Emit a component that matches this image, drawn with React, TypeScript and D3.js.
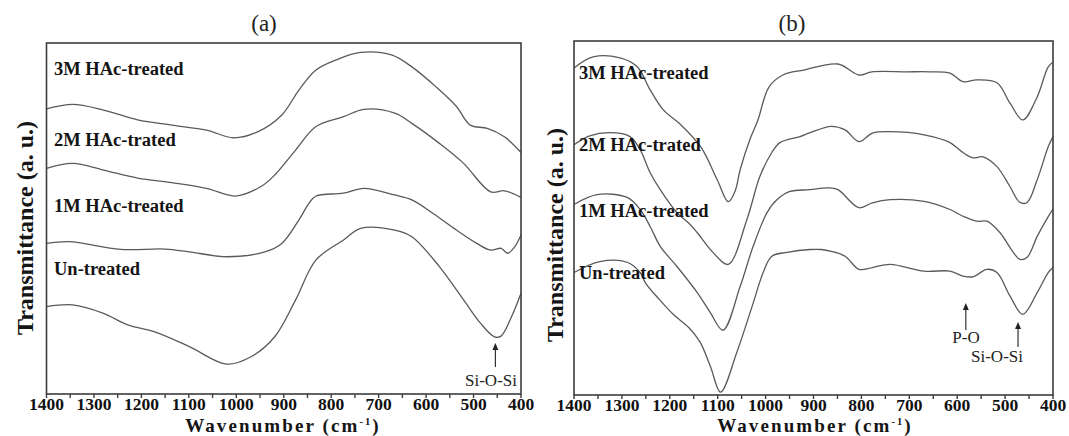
import React from "react";
import * as d3 from "d3";

// ---------- DATA ----------
const xTicksMajor = [1400, 1300, 1200, 1100, 1000, 900, 800, 700, 600, 500, 400];
const xTicksMinor = [1350, 1250, 1150, 1050, 950, 850, 750, 650, 550, 450];
const seriesNames = ["3M HAc-treated", "2M HAc-trated", "1M HAc-treated", "Un-treated"];

// Panel (a): [wavenumber, transmittance (a.u.)]
const a3M: [number, number][] = [
  [1400, 81.2], [1345, 82.5], [1280, 80.9], [1208, 78.1], [1136, 76.6], [1063, 75.2], [1006, 73.0],
  [955, 74.7], [904, 79.5], [868, 86.6], [832, 92.3], [789, 95.2], [738, 97.3], [673, 96.6],
  [630, 93.2], [579, 87.5], [536, 81.9], [507, 76.6], [471, 75.7], [435, 73.3], [400, 68.8],
];
const a2M: [number, number][] = [
  [1400, 64.3], [1345, 65.7], [1280, 63.8], [1208, 61.5], [1136, 60.2], [1063, 58.6], [1002, 56.4],
  [948, 59.1], [919, 62.4], [875, 69.5], [832, 76.2], [774, 79.0], [731, 81.1], [666, 80.0],
  [630, 77.1], [572, 71.4], [521, 65.7], [464, 57.6], [435, 57.9], [400, 56.0],
];
const a1M: [number, number][] = [
  [1400, 42.9], [1352, 43.4], [1244, 41.2], [1150, 41.3], [1099, 40.5], [1020, 39.1], [940, 40.5],
  [904, 42.9], [868, 49.6], [847, 54.3], [832, 56.4], [774, 57.2], [731, 58.6], [666, 56.7],
  [630, 55.3], [586, 51.5], [536, 46.7], [493, 42.9], [464, 41.0], [442, 41.5], [428, 40.1],
  [413, 42.0], [400, 45.3],
];
const aUn: [number, number][] = [
  [1400, 24.9], [1345, 25.4], [1280, 23.0], [1229, 19.7], [1172, 17.7], [1099, 13.5], [1020, 8.5],
  [969, 10.6], [919, 16.3], [875, 26.8], [832, 38.2], [774, 43.9], [738, 47.2], [666, 46.7],
  [630, 44.8], [572, 36.3], [521, 26.8], [485, 20.1], [456, 16.3], [442, 16.5], [420, 22.0],
  [400, 28.7],
];

// Panel (b)
const b3M: [number, number][] = [
  [1400, 92.4], [1360, 95.5], [1304, 95.2], [1268, 92.7], [1241, 86.2], [1214, 80.6], [1179, 76.6],
  [1135, 70.0], [1101, 60.8], [1078, 54.6], [1064, 57.5], [1053, 63.7], [1033, 72.1], [1016, 77.7],
  [993, 87.0], [964, 90.4], [920, 91.8], [849, 93.5], [805, 90.4], [778, 91.3], [705, 91.3],
  [657, 91.3], [615, 90.9], [588, 88.5], [559, 89.0], [517, 88.2], [490, 82.5], [463, 77.7],
  [433, 84.2], [410, 92.7], [400, 94.0],
];
const b2M: [number, number][] = [
  [1400, 70.7], [1367, 73.2], [1325, 74.1], [1283, 73.0], [1262, 69.3], [1241, 62.8], [1220, 58.0],
  [1185, 51.5], [1160, 48.5], [1143, 45.9], [1110, 40.3], [1078, 36.9], [1039, 49.6], [1012, 61.7],
  [987, 68.5], [970, 71.3], [928, 73.0], [907, 74.1], [863, 75.9], [834, 74.9], [805, 71.6],
  [777, 74.0], [740, 74.4], [669, 73.5], [615, 71.3], [588, 68.5], [567, 67.0], [546, 67.3],
  [517, 64.5], [490, 58.9], [469, 54.4], [454, 54.4], [433, 60.8], [410, 70.1], [400, 73.0],
];
const b1M: [number, number][] = [
  [1400, 53.8], [1352, 56.6], [1289, 55.8], [1262, 52.4], [1241, 47.6], [1220, 42.0], [1185, 36.3],
  [1143, 29.0], [1116, 23.4], [1089, 18.3], [1053, 30.7], [1026, 42.0], [997, 51.5], [976, 55.2],
  [949, 57.5], [907, 58.0], [870, 58.5], [849, 58.0], [805, 52.9], [777, 54.3], [740, 55.2],
  [669, 54.7], [615, 52.4], [588, 50.5], [559, 49.1], [538, 49.1], [511, 45.9], [483, 40.3],
  [469, 38.3], [454, 38.9], [433, 44.8], [410, 50.4], [400, 52.5],
];
const bUn: [number, number][] = [
  [1400, 34.6], [1346, 37.7], [1289, 37.5], [1262, 34.6], [1251, 31.7], [1222, 27.0], [1193, 22.8],
  [1160, 19.0], [1137, 15.0], [1115, 8.0], [1094, 0.8], [1060, 12.1], [1028, 25.1], [1005, 34.6],
  [987, 39.2], [955, 40.3], [907, 41.1], [884, 41.1], [863, 40.6], [834, 39.2], [805, 35.5],
  [777, 36.0], [740, 36.9], [669, 35.0], [615, 35.0], [588, 33.6], [567, 33.4], [538, 35.5],
  [517, 34.6], [490, 28.0], [463, 22.8], [433, 28.9], [410, 34.6], [400, 36.0],
];

const annotA = [{ label: "Si-O-Si", wn: 454 }];
const annotB = [{ label: "P-O", wn: 582 }, { label: "Si-O-Si", wn: 473 }];

// ---------- DRAWING ----------
const SERIF = "'Liberation Serif','Times New Roman',serif";
const LINE = "#5a5a5a";
const FRAME = "#3c3c3c";

type Cfg = {
  x0: number; x1: number; y0: number; y1: number;
  series: [number, number][][];
  labelX: number; labelY: number[];
  title: string; titleX: number;
  ylabX: number; ylabY: number; xlabX: number;
  annots: { label: string; wn: number }[];
  annotGeom: { y1: number; y2: number; tx: number; ty: number }[];
};

function Panel({ c }: { c: Cfg }) {
  const x = d3.scaleLinear().domain([1400, 400]).range([c.x0, c.x1]);
  const y = d3.scaleLinear().domain([0, 100]).range([c.y1, c.y0]);
  const line = d3.line<[number, number]>()
    .x((d) => x(d[0]))
    .y((d) => y(d[1]))
    .curve(d3.curveCatmullRom.alpha(0.5));
  return (
    <g>
      <text x={c.titleX} y={31} fontFamily={SERIF} fontSize={23} textAnchor="middle" fill="#222">{c.title}</text>
      {c.series.map((s, i) => (
        <path key={i} d={line(s) || ""} fill="none" stroke={LINE} strokeWidth={1.3} strokeLinejoin="round" />
      ))}
      <rect x={c.x0} y={c.y0} width={c.x1 - c.x0} height={c.y1 - c.y0} fill="none" stroke={FRAME} strokeWidth={1.6} />
      {xTicksMajor.map((t) => (
        <g key={"M" + t}>
          <line x1={x(t)} x2={x(t)} y1={c.y1} y2={c.y1 + 4} stroke={FRAME} strokeWidth={1.4} />
          <text x={x(t)} y={c.y1 + 15.5} fontFamily={SERIF} fontWeight="bold" fontSize={17.5} textAnchor="middle" fill="#111">{t}</text>
        </g>
      ))}
      {xTicksMinor.map((t) => (
        <line key={"m" + t} x1={x(t)} x2={x(t)} y1={c.y1} y2={c.y1 + 4} stroke={FRAME} strokeWidth={1.4} />
      ))}
      {seriesNames.map((n, i) => (
        <text key={n} x={c.labelX} y={c.labelY[i]} fontFamily={SERIF} fontWeight="bold" fontSize={18.5} fill="#151515">{n}</text>
      ))}
      {c.annots.map((a, i) => {
        const g = c.annotGeom[i];
        const ax = x(a.wn);
        return (
          <g key={a.label}>
            <line x1={ax} x2={ax} y1={g.y1} y2={g.y2 + 5} stroke="#222" strokeWidth={1.1} />
            <path d={`M${ax},${g.y2} L${ax - 3},${g.y2 + 7} L${ax + 3},${g.y2 + 7} Z`} fill="#222" />
            <text x={g.tx} y={g.ty} fontFamily={SERIF} fontSize={17} textAnchor="middle" fill="#222">{a.label}</text>
          </g>
        );
      })}
      <text transform={`translate(${c.ylabX},${c.ylabY}) rotate(-90)`} fontFamily={SERIF} fontWeight="bold" fontSize={24} textAnchor="middle" fill="#151515">Transmittance (a. u.)</text>
      <text x={c.xlabX} y={431.5} fontFamily={SERIF} fontWeight="bold" fontSize={19} letterSpacing={2.1} textAnchor="middle" fill="#151515">
        Wavenumber (cm<tspan fontSize={10.5} dy={-7}>-1</tspan><tspan dy={7}>)</tspan>
      </text>
    </g>
  );
}

export default function App() {
  const A: Cfg = {
    x0: 46.5, x1: 521, y0: 43, y1: 394,
    series: [a3M, a2M, a1M, aUn],
    labelX: 54, labelY: [75, 146, 212, 275],
    title: "(a)", titleX: 264,
    ylabX: 33, ylabY: 228, xlabX: 283,
    annots: annotA,
    annotGeom: [{ y1: 367, y2: 343, tx: 491, ty: 386 }],
  };
  const B: Cfg = {
    x0: 574, x1: 1053, y0: 41, y1: 395,
    series: [b3M, b2M, b1M, bUn],
    labelX: 579, labelY: [79, 151, 217, 279],
    title: "(b)", titleX: 792,
    ylabX: 563, ylabY: 235, xlabX: 815,
    annots: annotB,
    annotGeom: [{ y1: 330, y2: 303, tx: 966, ty: 343 }, { y1: 347, y2: 322, tx: 997, ty: 362 }],
  };
  return (
    <svg width={1069} height={436} style={{ position: "absolute", left: 0, top: 0, background: "#fff" }}>
      <rect width={1069} height={436} fill="#fff" />
      <Panel c={A} />
      <Panel c={B} />
    </svg>
  );
}
